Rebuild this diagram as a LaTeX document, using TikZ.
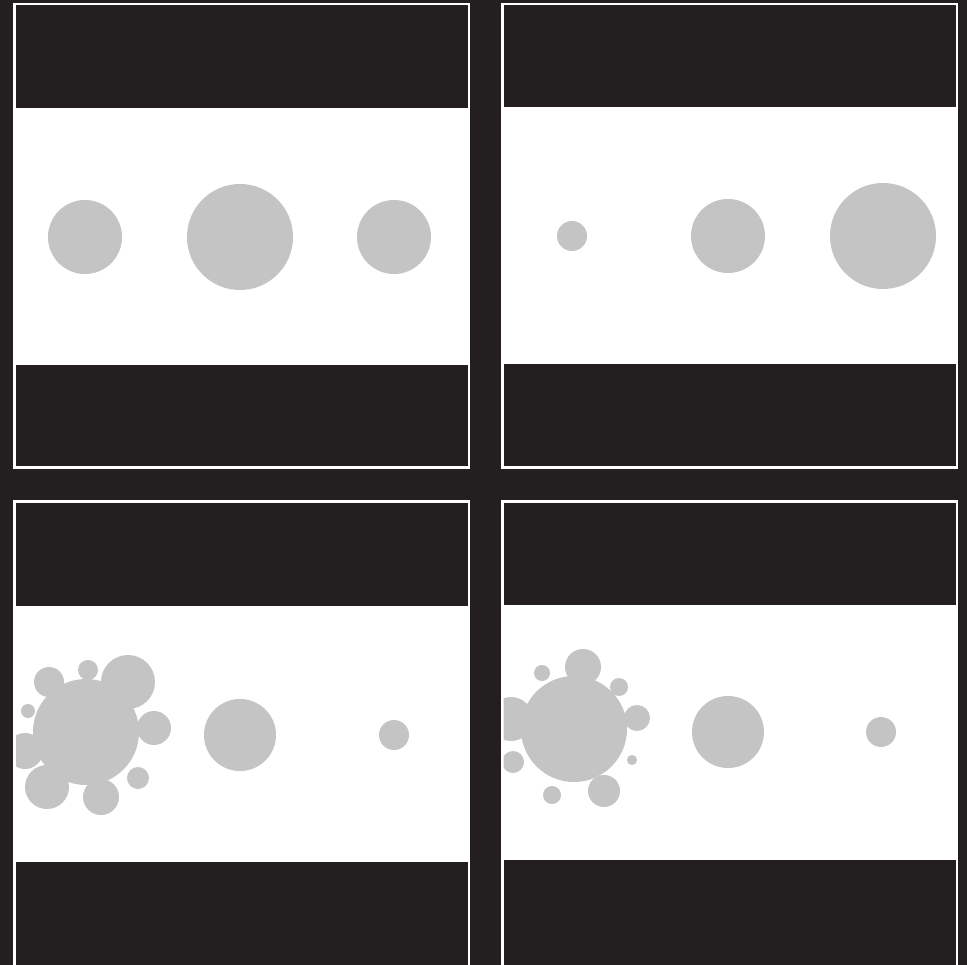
\documentclass[tikz,border=0pt]{standalone}
\usepackage{tikz}
\definecolor{panelbg}{HTML}{231F20}
\definecolor{blob}{HTML}{C4C4C4}

\begin{document}
\begin{tikzpicture}[
    x=1pt, y=-1pt,
    frame/.style={draw=white, line width=1.6pt, fill=white},
    band/.style={fill=panelbg},
    drop/.style={fill=blob}
]
    % Page
    \clip (0,0) rectangle (967,965);
    \fill[panelbg] (0,0) rectangle (967,965);

    % Top left panel
    \draw[frame] (13.8,3.8) rectangle (469.2,468.2);
    \fill[band] (15.5,5.5) rectangle (467.8,108);
    \fill[band] (15.5,365) rectangle (467.8,466.5);
    \fill[drop] (85,237) circle (37);
    \fill[drop] (240,237) circle (53);
    \fill[drop] (394,237) circle (37);

    % Top right panel
    \draw[frame] (501.8,3.8) rectangle (957.2,468.2);
    \fill[band] (503.5,5.5) rectangle (955.8,107);
    \fill[band] (503.5,364) rectangle (955.8,466.5);
    \fill[drop] (572,236) circle (15);
    \fill[drop] (728,236) circle (37);
    \fill[drop] (883,236) circle (53);

    % Bottom left panel
    \draw[frame] (13.8,500.8) rectangle (469.2,980);
    \fill[band] (15.5,502.5) rectangle (467.8,606);
    \fill[band] (15.5,862) rectangle (467.8,980);
    \begin{scope}
        \clip (16,606) rectangle (467.8,862);
        % Splash
        \fill[drop] (86,732) circle (53);
        \fill[drop] (49,682) circle (15);
        \fill[drop] (88,670) circle (10);
        \fill[drop] (128,682) circle (27);
        \fill[drop] (28,711) circle (7);
        \fill[drop] (154,728) circle (17);
        \fill[drop] (25,751) circle (18);
        \fill[drop] (47,787) circle (22);
        \fill[drop] (101,797) circle (18);
        \fill[drop] (138,778) circle (11);
    \end{scope}
    \fill[drop] (240,735) circle (36);
    \fill[drop] (394,735) circle (15);

    % Bottom right panel
    \draw[frame] (501.8,500.8) rectangle (957.2,980);
    \fill[band] (503.5,502.5) rectangle (955.8,605);
    \fill[band] (503.5,860) rectangle (955.8,980);
    \begin{scope}
        \clip (503.5,605) rectangle (955.8,860);
        % Splash
        \fill[drop] (574,729) circle (53);
        \fill[drop] (583,667) circle (18);
        \fill[drop] (542,673) circle (8);
        \fill[drop] (619,687) circle (9);
        \fill[drop] (637,718) circle (13);
        \fill[drop] (511,719) circle (22);
        \fill[drop] (513,762) circle (11);
        \fill[drop] (632,760) circle (5);
        \fill[drop] (552,795) circle (9);
        \fill[drop] (604,791) circle (16);
    \end{scope}
    \fill[drop] (728,732) circle (36);
    \fill[drop] (881,732) circle (15);
\end{tikzpicture}
\end{document}
